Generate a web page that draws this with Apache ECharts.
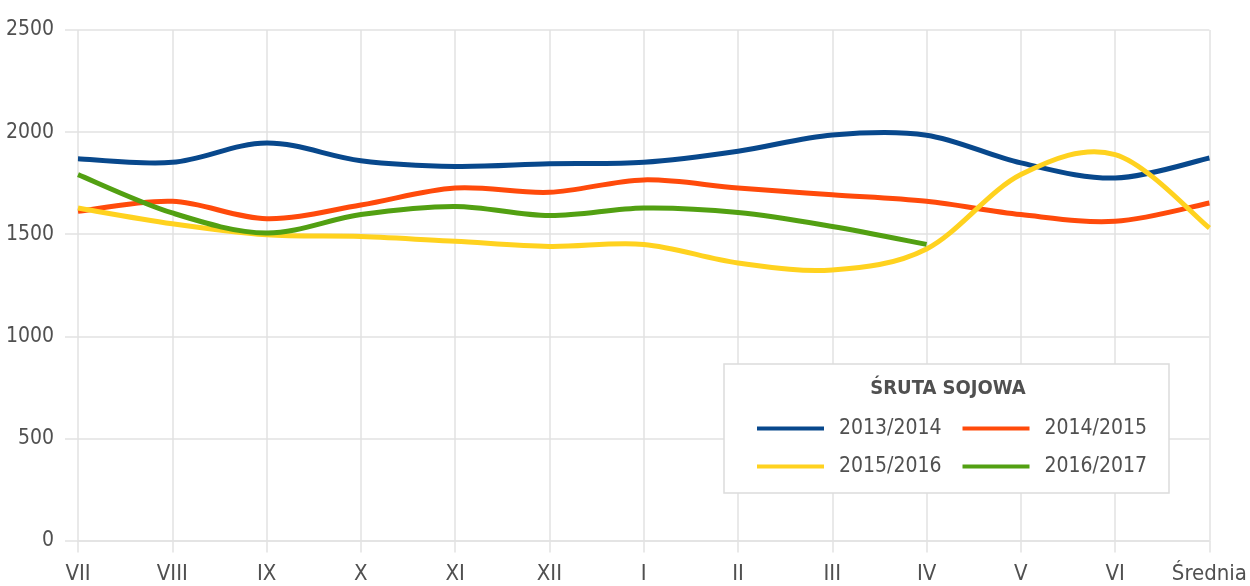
<!DOCTYPE html>
<html>
<head>
<meta charset="utf-8">
<script src="https://cdn.jsdelivr.net/npm/echarts@6/dist/echarts.min.js"></script>
<style>html,body{margin:0;padding:0;background:#fff}#c{width:1250px;height:586px}</style>
</head>
<body>
<div id="c"></div>
<script>
const categories = ['VII','VIII','IX','X','XI','XII','I','II','III','IV','V','VI','Średnia'];
const seriesNames = ['2013/2014','2014/2015','2015/2016','2016/2017'];
const s2013 = [1870,1852,1947,1860,1832,1845,1852,1906,1986,1985,1849,1775,1873];
const s2014 = [1612,1661,1576,1643,1726,1705,1766,1726,1693,1661,1596,1563,1653];
const s2015 = [1628,1551,1497,1489,1465,1440,1450,1359,1325,1428,1792,1890,1530];
const s2016 = [1792,1604,1506,1596,1636,1591,1628,1606,1538,1450,null,null,null];
const yTicks = [0,500,1000,1500,2000,2500];
const legendTitle = 'ŚRUTA SOJOWA';
const colors = ['#08488c','#ff4a0b','#ffd21f','#52a012'];

const FONT = "'DejaVu Sans Condensed','Liberation Sans Narrow','Roboto',sans-serif";
const chart = echarts.init(document.getElementById('c'));
const data = [s2013, s2014, s2015, s2016];
const legendText = {fontSize: 21, color: '#505050', fontFamily: FONT, padding: [0,0,0,10]};

// Catmull-Rom smooth path through points projected by the axes
function makeRender(arr, color) {
  return function (params, api) {
    if (params.dataIndex !== 0) return null;
    const pts = [];
    arr.forEach((v, i) => { if (v != null) pts.push(api.coord([i, v])); });
    if (pts.length < 2) return null;
    let d = 'M' + pts[0][0] + ' ' + pts[0][1];
    for (let i = 0; i < pts.length - 1; i++) {
      const p0 = pts[i - 1] || pts[i];
      const p1 = pts[i];
      const p2 = pts[i + 1];
      const p3 = pts[i + 2] || pts[i + 1];
      const c1x = p1[0] + (p2[0] - p0[0]) / 6, c1y = p1[1] + (p2[1] - p0[1]) / 6;
      const c2x = p2[0] - (p3[0] - p1[0]) / 6, c2y = p2[1] - (p3[1] - p1[1]) / 6;
      d += ' C' + c1x + ' ' + c1y + ' ' + c2x + ' ' + c2y + ' ' + p2[0] + ' ' + p2[1];
    }
    return {
      type: 'path',
      shape: {pathData: d},
      style: {fill: 'none', stroke: color, lineWidth: 5, lineJoin: 'round'}
    };
  };
}

chart.setOption({
  animation: false,
  textStyle: {fontFamily: FONT},
  color: colors,
  grid: {left: 78, right: 37, top: 30, bottom: 45.5, containLabel: false},
  xAxis: {
    type: 'category', data: categories, boundaryGap: false,
    axisLine: {lineStyle: {color: '#e2e2e2', width: 1.5}},
    axisTick: {show: true, length: 12, lineStyle: {color: '#e2e2e2', width: 1.5}},
    splitLine: {show: true, interval: 0, lineStyle: {color: '#e2e2e2', width: 1.5}},
    axisLabel: {interval: 0, fontSize: 22, color: '#505050', margin: 23, fontFamily: FONT}
  },
  yAxis: {
    type: 'value', min: yTicks[0], max: yTicks[yTicks.length-1], interval: 500,
    axisLine: {show: false},
    axisTick: {show: true, length: 13, lineStyle: {color: '#e2e2e2', width: 1.5}},
    splitLine: {show: true, lineStyle: {color: '#e2e2e2', width: 1.5}},
    axisLabel: {fontSize: 21, color: '#505050', margin: 24, fontFamily: FONT, formatter: v => String(v)}
  },
  legend: [
    {data: [seriesNames[0], seriesNames[1]], left: 757, top: 418, padding: 0, icon: 'rect', itemWidth: 67, itemHeight: 4, itemGap: 21, textStyle: legendText},
    {data: [seriesNames[2], seriesNames[3]], left: 757, top: 456, padding: 0, icon: 'rect', itemWidth: 67, itemHeight: 4, itemGap: 21, textStyle: legendText}
  ],
  graphic: [
    {type: 'rect', z: 3, shape: {x: 724, y: 364, width: 445, height: 129}, style: {fill: '#fff', stroke: '#dcdcdc', lineWidth: 1.5}},
    {type: 'text', z: 5, x: 948, y: 389, style: {text: legendTitle, fill: '#505050', font: 'bold 20px ' + FONT, textAlign: 'center', textVerticalAlign: 'middle'}}
  ],
  series: data.map((d, i) => ({
    name: seriesNames[i], type: 'custom',
    data: d.map((v, j) => [j, v]).filter(p => p[1] != null),
    encode: {x: 0, y: 1},
    itemStyle: {color: colors[i]},
    renderItem: makeRender(d, colors[i])
  }))
});
</script>
</body>
</html>
